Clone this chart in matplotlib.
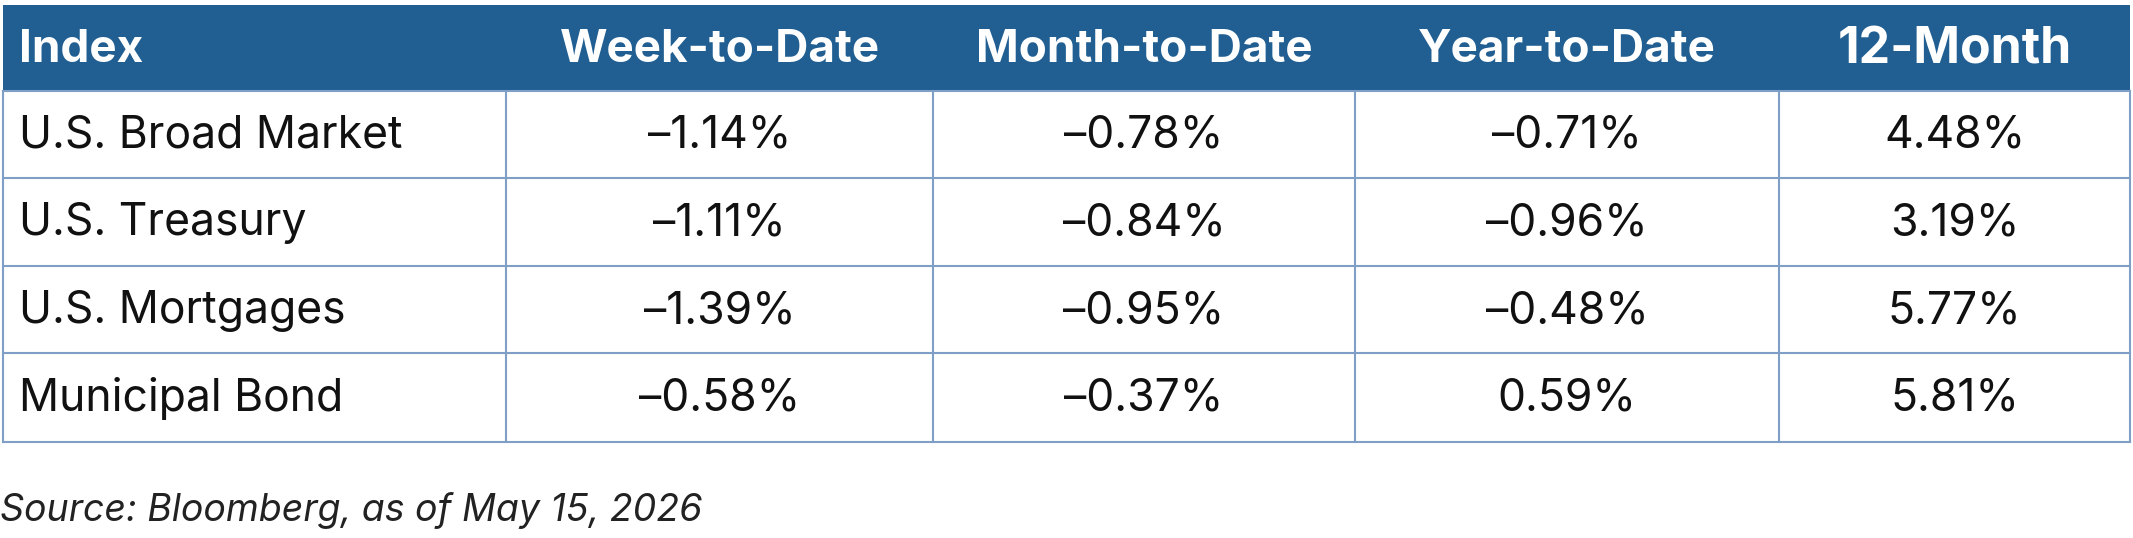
import matplotlib.pyplot as plt
from matplotlib.patches import Rectangle

headers = ["Index", "Week-to-Date", "Month-to-Date", "Year-to-Date", "12-Month"]
indexes = ["U.S. Broad Market", "U.S. Treasury", "U.S. Mortgages", "Municipal Bond"]
wtd = ["\u20131.14%", "\u20131.11%", "\u20131.39%", "\u20130.58%"]
mtd = ["\u20130.78%", "\u20130.84%", "\u20130.95%", "\u20130.37%"]
ytd = ["\u20130.71%", "\u20130.96%", "\u20130.48%", "0.59%"]
twelve = ["4.48%", "3.19%", "5.77%", "5.81%"]
source = "Source: Bloomberg, as of May 15, 2026"

plt.rcParams['font.family'] = ['Inter', 'DejaVu Sans']

W, H = 1568, 396
fig = plt.figure(figsize=(21.33, 5.38), dpi=100)
ax = fig.add_axes([0, 0, 1, 1])
ax.set_xlim(0, W)
ax.set_ylim(H, 0)
ax.axis('off')

blue = '#215f92'
border = '#7f9fc6'
xs = [2, 372, 686, 996, 1308, 1566]
ys = [4, 67, 131, 196, 260, 325]

ax.add_patch(Rectangle((xs[0], ys[0]), xs[-1] - xs[0], ys[1] - ys[0], color=blue, lw=0))
for i, h in enumerate(headers):
    if i == 0:
        ax.text(14, (ys[0] + ys[1]) / 2 + 1, h, color='white', fontsize=33, fontweight='bold', va='center', ha='left')
    else:
        ax.text((xs[i] + xs[i + 1]) / 2, (ys[0] + ys[1]) / 2 + 1, h, color='white',
                fontsize=36 if i == 4 else 33, fontweight='bold', va='center', ha='center')

cols = [indexes, wtd, mtd, ytd, twelve]
for r in range(4):
    yc = (ys[r + 1] + ys[r + 2]) / 2 + 1
    for c, col in enumerate(cols):
        if c == 0:
            ax.text(14, yc, col[r], fontsize=32, va='center', ha='left', color='#111111')
        else:
            ax.text((xs[c] + xs[c + 1]) / 2, yc, col[r], fontsize=32,
                    va='center', ha='center', color='#111111')

# grid lines
for y in ys[1:]:
    ax.plot([xs[0], xs[-1]], [y, y], color=border, lw=1.5)
for x in xs:
    ax.plot([x, x], [ys[1], ys[-1]], color=border, lw=1.5)

ax.text(0, 376, source, fontsize=27, style='italic', va='center', ha='left', color='#222222')

fig.savefig('out.png', dpi=100)
